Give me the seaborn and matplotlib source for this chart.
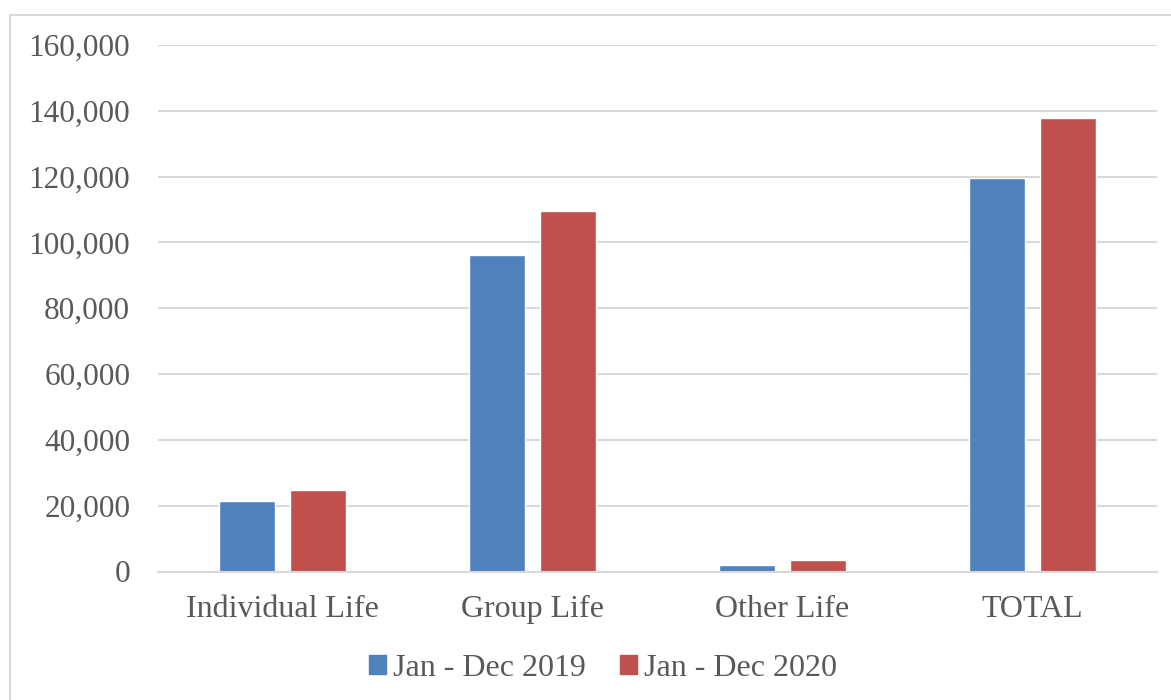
import matplotlib
matplotlib.use("Agg")
import matplotlib.pyplot as plt
import matplotlib.patches as mpatches
from matplotlib.ticker import FuncFormatter
import seaborn as sns
import pandas as pd

categories = ["Individual Life", "Group Life", "Other Life", "TOTAL"]
series_names = ["Jan - Dec 2019", "Jan - Dec 2020"]
values_2019 = [21300, 96200, 1900, 119600]
values_2020 = [24700, 109700, 3500, 137800]
y_ticks = [0, 20000, 40000, 60000, 80000, 100000, 120000, 140000, 160000]

df = pd.DataFrame({
    "category": categories * 2,
    "period": [series_names[0]] * 4 + [series_names[1]] * 4,
    "value": values_2019 + values_2020,
})

sns.set_theme(style="white")
plt.rcParams["font.family"] = ["Liberation Serif", "DejaVu Serif"]

text_color = "#595959"
grid_color = "#d9d9d9"
palette = {series_names[0]: "#4F81BD", series_names[1]: "#C0504D"}

fig = plt.figure(figsize=(11.71, 7.0), dpi=100)
ax = fig.add_axes([158 / 1171, 128.5 / 700, 999 / 1171, 526.5 / 700])

sns.barplot(data=df, x="category", y="value", hue="period", order=categories,
            hue_order=series_names, palette=palette, width=0.568, gap=0.21,
            saturation=1, ax=ax, legend=False)

ax.set_ylim(0, 160000)
ax.set_xlim(-0.5, len(categories) - 0.5)
ax.set_yticks(y_ticks)
ax.yaxis.set_major_formatter(FuncFormatter(lambda v, p: f"{int(v):,}"))
ax.yaxis.grid(True, color=grid_color, linewidth=1.5)
ax.set_axisbelow(True)
for side in ["top", "right", "left"]:
    ax.spines[side].set_visible(False)
ax.spines["bottom"].set_color(grid_color)
ax.spines["bottom"].set_linewidth(1.5)
ax.tick_params(axis="y", length=0, pad=20, labelsize=22.5, labelcolor=text_color)
ax.tick_params(axis="x", length=0, pad=17, labelsize=23, labelcolor=text_color)
ax.set_xlabel("")
ax.set_ylabel("")

handles = [mpatches.Patch(color=palette[s], label=s) for s in series_names]
fig.legend(handles=handles, loc="center", bbox_to_anchor=(603 / 1171, 1 - 668 / 700),
           ncol=2, frameon=False, fontsize=23, labelcolor=text_color,
           handlelength=0.55, handleheight=0.55, handletextpad=0.22, columnspacing=1.06)

# Chart area border (left and top edges visible)
fig.add_artist(plt.Line2D([10 / 1171, 10 / 1171], [0, 1 - 14.5 / 700],
                          transform=fig.transFigure, color=grid_color, linewidth=1.5))
fig.add_artist(plt.Line2D([10 / 1171, 1], [1 - 14.5 / 700, 1 - 14.5 / 700],
                          transform=fig.transFigure, color=grid_color, linewidth=1.5))

fig.savefig("out.png", dpi=100)
